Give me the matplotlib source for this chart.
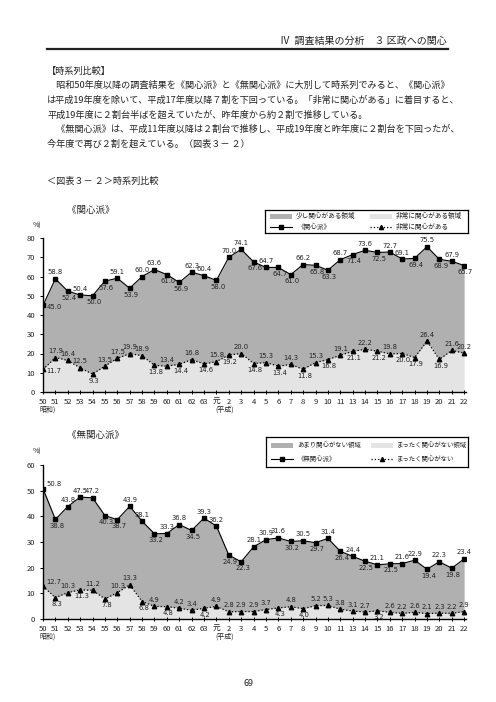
import matplotlib
matplotlib.use('Agg')
import matplotlib.pyplot as plt
from matplotlib.patches import Rectangle
from matplotlib.lines import Line2D

plt.rcParams['font.family'] = ['Noto Sans CJK JP', 'DejaVu Sans']

# 年度ラベル（平成12年度は調査なし）
years = ['50', '51', '52', '53', '54', '55', '56', '57', '58', '59', '60', '61', '62', '63',
         '元', '2', '3', '4', '5', '6', '7', '8', '9', '10', '11', '13', '14', '15', '16',
         '17', '18', '19', '20', '21', '22']

# 《関心派》 と 「非常に関心がある」
kanshin = [45.0, 58.8, 52.4, 50.4, 50.0, 57.6, 59.1, 53.9, 60.0, 63.6, 61.0, 56.9, 62.3, 60.4,
           58.0, 70.0, 74.1, 67.6, 64.7, 64.7, 61.0, 66.2, 65.8, 63.3, 68.7, 71.4, 73.6, 72.5,
           72.7, 69.1, 69.4, 75.5, 68.9, 67.9, 65.7]
hijou = [11.7, 17.9, 16.4, 12.5, 9.3, 13.5, 17.5, 19.9, 18.9, 13.8, 13.4, 14.4, 16.8, 14.6,
         15.8, 19.2, 20.0, 14.8, 15.3, 13.4, 14.3, 11.8, 15.3, 16.8, 19.1, 21.1, 22.2, 21.2,
         19.8, 20.0, 17.9, 26.4, 16.9, 21.6, 20.2]

# 《無関心派》 と 「まったく関心がない」
mukanshin = [50.8, 38.8, 43.8, 47.5, 47.2, 40.3, 38.7, 43.9, 38.1, 33.2, 33.3, 36.8, 34.5, 39.3,
             36.2, 24.9, 22.3, 28.1, 30.9, 31.6, 30.2, 30.5, 29.7, 31.4, 26.4, 24.4, 22.5, 21.1,
             21.5, 21.6, 22.9, 19.4, 22.3, 19.8, 23.4]
mattaku = [12.7, 8.3, 10.3, 11.3, 11.2, 7.8, 10.3, 13.3, 6.8, 4.9, 4.8, 4.2, 3.4, 4.2,
           4.9, 2.8, 2.9, 2.9, 3.7, 4.3, 4.8, 4.0, 5.2, 5.3, 3.8, 3.1, 2.7, 3.2,
           2.6, 2.2, 2.6, 2.1, 2.3, 2.2, 2.9]

# ラベル位置 (u:上 d:下 r:右下 R:右上)
pos_kan = 'rudud' + 'duduu' + 'dduud' + 'uudud' + 'duddu' + 'duduu' + 'dudud'
pos_hij = 'ruuud' + 'uuuud' + 'ududu' + 'dudud' + 'ududu' + 'dudud' + 'duduu'
pos_muk = 'Rduuu' + 'dduud' + 'uuduu' + 'dduuu' + 'dudud' + 'ududu' + 'ududu'
pos_mat = 'Rdudu' + 'duudu' + 'duudu' + 'uuuud' + 'uduuu' + 'uuduu' + 'uuuuu'

DARK = '#b0b0b0'
LIGHT = '#e4e4e4'
TXT = '#222222'
LABEL_FONT = ['Liberation Sans Narrow', 'DejaVu Sans']

fig = plt.figure(figsize=(4.96, 7.02), dpi=100)


def fy(py):
    return 1 - py / 702


def label_points(ax, xs, vals, codes):
    for x, v, c in zip(xs, vals, codes):
        if c == 'u':
            off, ha, va = (0, 2.5), 'center', 'bottom'
        elif c == 'd':
            off, ha, va = (1, -2.5), 'center', 'top'
        elif c == 'r':
            off, ha, va = (2.5, 1), 'left', 'top'
        else:
            off, ha, va = (2.5, 1), 'left', 'bottom'
        ax.annotate(f'{v:.1f}', (x, v), xytext=off, textcoords='offset points',
                    ha=ha, va=va, fontsize=4.9, family=LABEL_FONT, color=TXT)


def draw_panel(ax, total, part, ymax, codes_t, codes_p):
    xs = list(range(len(years)))
    ax.fill_between(xs, 0, part, color=LIGHT, lw=0)
    ax.fill_between(xs, part, total, color=DARK, lw=0)
    ax.plot(xs, total, color='black', lw=0.8, marker='s', ms=3.2)
    ax.plot(xs, part, color='black', lw=0.9, ls=':', marker='^', ms=3.2)
    label_points(ax, xs, total, codes_t)
    label_points(ax, xs, part, codes_p)
    ax.set_xlim(0, len(years) - 1 + 0.15)
    ax.set_ylim(0, ymax)
    ax.set_yticks(range(0, ymax + 1, 10))
    ax.set_xticks(xs)
    ax.set_xticklabels(years)
    for s in ['top', 'right']:
        ax.spines[s].set_visible(False)
    for s in ['left', 'bottom']:
        ax.spines[s].set_linewidth(1.0)
    ax.tick_params(axis='both', labelsize=5.5, length=2.5, width=0.7, pad=3,
                   labelcolor=TXT)
    ax.tick_params(axis='x', direction='inout', length=3)
    ax.set_facecolor('none')


def draw_legend(left, top, right, bottom, labels, fs):
    lax = fig.add_axes([left / 496, fy(bottom), (right - left) / 496, fy(top) - fy(bottom)])
    lax.set_xlim(left, right)
    lax.set_ylim(bottom, top)
    lax.set_xticks([])
    lax.set_yticks([])
    for s in lax.spines.values():
        s.set_linewidth(0.9)
    h = bottom - top
    r1 = top + h * 0.27
    r2 = top + h * 0.73
    lax.add_patch(Rectangle((left + 5, r1 - 2.5), 22, 5, color=DARK, lw=0))
    lax.add_patch(Rectangle((left + 105, r1 - 2.5), 22, 5, color=LIGHT, lw=0))
    lax.plot([left + 5, left + 27], [r2, r2], color='black', lw=0.8)
    lax.plot([left + 16], [r2], color='black', marker='s', ms=3)
    lax.plot([left + 105, left + 127], [r2, r2], color='black', lw=0.9, ls=':')
    lax.plot([left + 116], [r2], color='black', marker='^', ms=3)
    lax.text(left + 31, r1, labels[0], ha='left', va='center', fontsize=fs, color=TXT)
    lax.text(left + 131, r1, labels[1], ha='left', va='center', fontsize=fs, color=TXT)
    lax.text(left + 32, r2, labels[2], ha='left', va='center', fontsize=fs, color=TXT)
    lax.text(left + 131, r2, labels[3], ha='left', va='center', fontsize=fs, color=TXT)


# ページ見出し
fig.text(447 / 496, fy(41), 'Ⅳ  調査結果の分析　３ 区政への関心', ha='right', va='center',
         fontsize=7.2, color=TXT)
fig.add_artist(Line2D([47 / 496, 448 / 496], [fy(49), fy(49)], color=TXT, lw=1.6))

body = ['【時系列比較】',
        '　昭和50年度以降の調査結果を《関心派》と《無関心派》に大別して時系列でみると、《関心派》',
        'は平成19年度を除いて、平成17年度以降７割を下回っている。「非常に関心がある」に着目すると、',
        '平成19年度に２割台半ばを超えていたが、昨年度から約２割で推移している。',
        '　《無関心派》は、平成11年度以降は２割台で推移し、平成19年度と昨年度に２割台を下回ったが、',
        '今年度で再び２割を超えている。（図表３－ ２）']
for i, line in enumerate(body):
    fig.text(47 / 496, fy(71 + i * 14.6), line, ha='left', va='center', fontsize=6.6,
             color=TXT)
fig.text(47 / 496, fy(181), '＜図表３－ ２＞時系列比較', ha='left', va='center', fontsize=6.6,
         color=TXT)

# 《関心派》
ax1 = fig.add_axes([43 / 496, fy(392), 423 / 496, fy(238) - fy(392)])
draw_panel(ax1, kanshin, hijou, 80, pos_kan, pos_hij)
fig.text(67 / 496, fy(210), '《関心派》', ha='left', va='center', fontsize=6.8, color=TXT)
fig.text(33 / 496, fy(226), '%)', ha='left', va='center', fontsize=5, color=TXT)
fig.text(48 / 496, fy(410), '昭和)', ha='center', va='center', fontsize=5, color=TXT)
fig.text(225 / 496, fy(410), '(平成)', ha='center', va='center', fontsize=5, color=TXT)
draw_legend(265, 210, 468, 233, ['少し関心がある領域', '非常に関心がある領域', '《関心派》', '非常に関心がある'], 4.8)

# 《無関心派》
ax2 = fig.add_axes([43 / 496, fy(619), 423 / 496, fy(465) - fy(619)])
draw_panel(ax2, mukanshin, mattaku, 60, pos_muk, pos_mat)
fig.text(67 / 496, fy(435), '《無関心派》', ha='left', va='center', fontsize=6.8, color=TXT)
fig.text(33 / 496, fy(452), '%)', ha='left', va='center', fontsize=5, color=TXT)
fig.text(48 / 496, fy(637), '昭和)', ha='center', va='center', fontsize=5, color=TXT)
fig.text(225 / 496, fy(637), '(平成)', ha='center', va='center', fontsize=5, color=TXT)
draw_legend(266, 437, 468, 467, ['あまり関心がない領域', 'まったく関心がない領域', '《無関心派》', 'まったく関心がない'], 4.6)

fig.text(248 / 496, fy(683), '69', ha='center', va='center', fontsize=6.5, color=TXT)

fig.savefig('out.png', dpi=100)
